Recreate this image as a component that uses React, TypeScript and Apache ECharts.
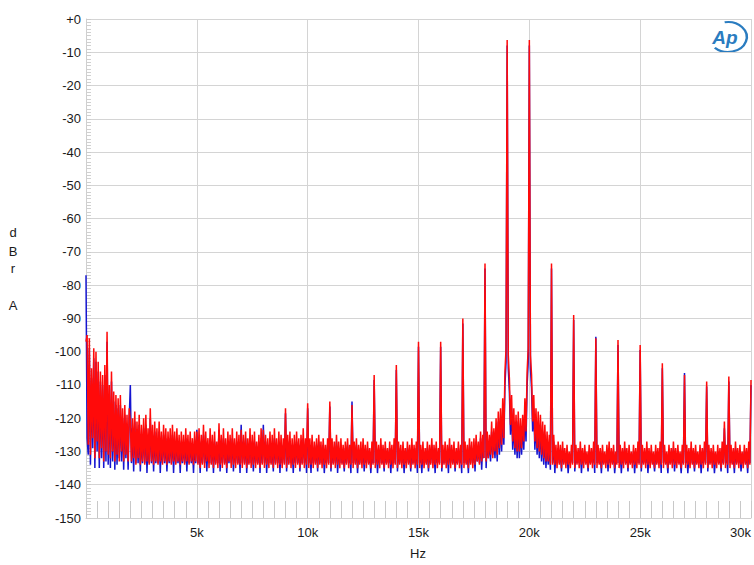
import React, { useEffect, useRef } from "react";
import * as echarts from "echarts";

// ---- data (dBrA), one value per 50 Hz bin starting at 0 Hz ----
const BIN_HZ = 50;

const red0to5k = [
  -97, -95, -128, -96, -131, -105, -126, -99, -132, -100,
  -127, -103, -132, -106, -129, -107, -133, -104, -130, -94,
  -131, -110, -132, -106, -130, -112, -133, -113, -131, -114,
  -133, -113, -130, -117, -133, -116, -131, -119, -133, -117,
  -121, -133, -120, -132, -118, -134, -121, -132, -119, -134,
  -122, -133, -120, -134, -119, -133, -123, -134, -117, -133,
  -122, -134, -121, -133, -123, -134, -121, -133, -124, -134,
  -122, -133, -123, -134, -124, -133, -123, -134, -122, -133,
  -124, -134, -123, -133, -125, -134, -124, -133, -125, -134,
  -123, -133, -125, -134, -124, -133, -126, -134, -124, -133,
];
const red5to10k = [
  -124, -134, -123, -135, -125, -134, -122, -135, -124, -133,
  -126, -135, -123, -134, -125, -135, -124, -134, -127, -135,
  -121.5, -134, -125, -135, -123, -134, -126, -135, -124, -133,
  -125, -135, -123, -134, -126, -135, -124, -134, -125, -134,
  -123.5, -135, -125, -134, -124, -135, -126, -134, -123, -135,
  -125, -134, -124, -135, -127, -134, -125, -135, -123, -134,
  -123.5, -135, -125, -134, -126, -135, -124, -134, -125, -135,
  -123, -134, -126, -135, -124, -134, -125, -135, -126, -134,
  -117, -135, -125, -134, -124, -135, -126, -134, -125, -135,
  -124, -134, -126, -135, -125, -134, -123, -135, -126, -134,
];
const red10to15k = [
  -115.5, -135, -126, -134, -125, -135, -127, -134, -126, -135,
  -125, -134, -127, -135, -126, -134, -128, -135, -126, -134,
  -115, -135, -126, -134, -127, -135, -125, -134, -127, -135,
  -126, -134, -128, -135, -127, -134, -126, -135, -128, -134,
  -116, -135, -127, -134, -126, -135, -128, -134, -127, -135,
  -126, -134, -128, -135, -127, -134, -129, -135, -127, -134,
  -107, -135, -127, -134, -128, -135, -126, -134, -128, -135,
  -127, -134, -129, -135, -127, -134, -128, -135, -126, -134,
  -104, -135, -127, -134, -128, -135, -127, -134, -129, -135,
  -127, -134, -128, -135, -126, -134, -128, -135, -127, -134,
];
const red15to20k = [
  -97, -135, -128, -134, -127, -135, -129, -134, -127, -135,
  -128, -134, -126, -135, -128, -134, -127, -135, -129, -134,
  -97, -135, -128, -134, -127, -135, -128, -134, -126, -135,
  -128, -134, -127, -135, -129, -134, -127, -135, -128, -134,
  -90, -135, -127, -134, -128, -135, -126, -134, -127, -135,
  -126, -134, -125, -133, -127, -134, -124, -133, -125, -132,
  -73.5, -133, -124, -132, -125, -131, -121, -132, -123, -130,
  -120, -131, -118, -129, -117, -128, -114, -126, -106, -99,
  -6.3, -101, -108, -122, -113, -127, -117, -129, -119, -130,
  -118, -130, -120, -129, -119, -127, -114, -124, -106, -99,
];
const red20to25k = [
  -6.3, -101, -107, -121, -113, -127, -117, -129, -118, -130,
  -119, -131, -121, -132, -122, -133, -124, -133, -125, -134,
  -73.5, -134, -125, -134, -128, -135, -127, -134, -128, -135,
  -127, -134, -129, -135, -128, -134, -130, -135, -128, -134,
  -89, -135, -128, -134, -129, -135, -127, -134, -129, -135,
  -128, -134, -130, -135, -128, -134, -129, -135, -127, -134,
  -96, -135, -128, -134, -129, -135, -128, -134, -130, -135,
  -128, -134, -127, -135, -129, -134, -128, -135, -130, -134,
  -96.5, -135, -128, -134, -129, -135, -127, -134, -129, -135,
  -128, -134, -130, -135, -128, -134, -129, -135, -127, -134,
];
const red25to30k = [
  -98, -135, -128, -134, -129, -135, -127, -134, -129, -135,
  -128, -134, -130, -135, -128, -134, -129, -135, -127, -134,
  -103.5, -135, -128, -134, -130, -135, -128, -134, -129, -135,
  -127, -134, -129, -135, -128, -134, -130, -135, -128, -134,
  -107, -135, -128, -134, -129, -135, -127, -134, -129, -135,
  -128, -134, -130, -135, -128, -134, -129, -135, -127, -134,
  -109, -135, -128, -134, -129, -135, -128, -134, -130, -135,
  -128, -134, -129, -135, -127, -134, -121, -135, -128, -134,
  -107.5, -135, -128, -134, -129, -135, -127, -134, -129, -135,
  -128, -134, -130, -135, -128, -134, -129, -135, -127, -134,
  -108.5,
];

const blue0to5k = [
  -77, -126, -131, -99, -134, -108, -129, -102, -135, -103,
  -130, -106, -135, -109, -132, -110, -135, -107, -133, -97,
  -134, -113, -135, -109, -133, -115, -135.5, -116, -134, -117,
  -132, -116, -133, -120, -135.5, -119, -132, -122, -135.5, -120,
  -110, -133.5, -123, -136, -121, -133.5, -124, -133.5, -122, -136,
  -125, -133.5, -123, -133.5, -122, -136.5, -126, -133.5, -120, -133.5,
  -125, -136, -124, -133.5, -126, -133.5, -124, -136.5, -127, -133.5,
  -125, -133.5, -126, -136, -127, -133.5, -126, -133.5, -125, -136.5,
  -127, -133.5, -126, -133.5, -128, -136.5, -127, -133.5, -128, -133.5,
  -126, -136, -127, -133.5, -127, -133.5, -128, -136.5, -127, -133.5,
];
const blue5to10k = [
  -123.5, -133.5, -126, -136.5, -127, -133.5, -125, -133.5, -127, -136,
  -128, -133.5, -126, -133.5, -127, -136.5, -127, -133.5, -129, -133.5,
  -123.5, -136, -127, -133.5, -126, -133.5, -128, -136.5, -127, -133.5,
  -127, -133.5, -126, -136, -128, -133.5, -127, -133.5, -128, -136.5,
  -122, -133.5, -127, -133.5, -126, -136.5, -128, -133.5, -126, -133.5,
  -127, -136, -127, -133.5, -129, -133.5, -127, -136.5, -126, -133.5,
  -122, -133.5, -127, -136.5, -128, -133.5, -127, -133.5, -128, -136,
  -126, -133.5, -128, -133.5, -127, -136.5, -128, -133.5, -128, -133.5,
  -118.5, -136, -127, -133.5, -127, -133.5, -128, -136.5, -128, -133.5,
  -127, -133.5, -128, -136, -127, -133.5, -126, -133.5, -128, -136.5,
];
const blue10to15k = [
  -117, -133.5, -128, -136.5, -127, -133.5, -129, -133.5, -128, -136,
  -127, -133.5, -129, -133.5, -128, -136.5, -130, -133.5, -128, -133.5,
  -116.5, -136, -128, -133.5, -129, -133.5, -127, -136.5, -129, -133.5,
  -128, -133.5, -130, -136, -129, -133.5, -128, -133.5, -130, -136.5,
  -115, -133.5, -129, -133.5, -128, -136.5, -130, -133.5, -129, -133.5,
  -128, -136, -130, -133.5, -129, -133.5, -131, -136.5, -129, -133.5,
  -108.5, -133.5, -129, -136.5, -130, -133.5, -128, -133.5, -130, -136,
  -129, -133.5, -131, -133.5, -129, -136.5, -130, -133.5, -128, -133.5,
  -105.5, -136, -129, -133.5, -130, -133.5, -129, -136.5, -131, -133.5,
  -129, -133.5, -130, -136, -128, -133.5, -130, -133.5, -129, -136.5,
];
const blue15to20k = [
  -98.5, -133.5, -130, -136.5, -129, -133.5, -131, -133.5, -129, -136,
  -130, -133.5, -128, -133.5, -130, -136.5, -129, -133.5, -131, -133.5,
  -98.5, -136, -130, -133.5, -129, -133.5, -130, -136.5, -128, -133.5,
  -130, -133.5, -129, -136, -131, -133.5, -129, -133.5, -130, -136.5,
  -91.5, -133.5, -129, -133.5, -130, -136.5, -128, -133.5, -129, -133.5,
  -128, -136, -127, -133, -129, -133.5, -126, -135.5, -127, -132,
  -75, -135, -126, -132, -127, -133, -124, -131, -125, -132,
  -123, -133, -121, -131, -120, -130, -118, -128, -110, -103,
  -8, -105, -112, -125, -117, -129.5, -121, -131, -122, -132,
  -121, -132, -123, -131, -122, -129.5, -118, -127, -110, -103,
];
const blue20to25k = [
  -8, -105, -111, -124, -117, -129.5, -121, -131, -122, -132,
  -122, -133, -124, -134, -125, -135, -127, -134, -128, -135.5,
  -75, -133.5, -127, -136.5, -130, -133.5, -129, -133.5, -130, -136,
  -129, -133.5, -131, -133.5, -130, -136.5, -132, -133.5, -130, -133.5,
  -90.5, -136, -130, -133.5, -131, -133.5, -129, -136.5, -131, -133.5,
  -130, -133.5, -132, -136, -130, -133.5, -131, -133.5, -129, -136.5,
  -95.5, -133.5, -130, -133.5, -131, -136.5, -130, -133.5, -132, -133.5,
  -130, -136, -129, -133.5, -131, -133.5, -130, -136.5, -132, -133.5,
  -98, -133.5, -130, -136.5, -131, -133.5, -129, -133.5, -131, -136,
  -130, -133.5, -132, -133.5, -130, -136.5, -131, -133.5, -129, -133.5,
];
const blue25to30k = [
  -99.5, -136, -130, -133.5, -131, -133.5, -129, -136.5, -131, -133.5,
  -130, -133.5, -132, -136, -130, -133.5, -131, -133.5, -129, -136.5,
  -105, -133.5, -130, -133.5, -132, -136.5, -130, -133.5, -131, -133.5,
  -129, -136, -131, -133.5, -130, -133.5, -132, -136.5, -130, -133.5,
  -106.4, -133.5, -130, -136.5, -131, -133.5, -129, -133.5, -131, -136,
  -130, -133.5, -132, -133.5, -130, -136.5, -131, -133.5, -129, -133.5,
  -110.5, -136, -130, -133.5, -131, -133.5, -130, -136.5, -132, -133.5,
  -130, -133.5, -131, -136, -129, -133.5, -123, -133.5, -130, -136.5,
  -109, -133.5, -130, -133.5, -131, -136.5, -129, -133.5, -131, -133.5,
  -130, -136, -132, -133.5, -130, -133.5, -131, -136.5, -129, -133.5,
  -110,
];

const xTicksHz = [0, 5000, 10000, 15000, 20000, 25000, 30000];
const yTicksDb = [0, -10, -20, -30, -40, -50, -60, -70, -80, -90, -100, -110, -120, -130, -140, -150];
const yNameLetters = ["d", "B", "r", "A"];

const FONT = '"Liberation Sans", Arial, Helvetica, sans-serif';

function toPoints(vals: number[]) {
  return vals.map((v, i) => [i * BIN_HZ, v]);
}

export default function App() {
  const ref = useRef<HTMLDivElement>(null);
  useEffect(() => {
    if (!ref.current) return;
    const chart = echarts.init(ref.current, undefined, { renderer: "svg" });
    const red = [...red0to5k, ...red5to10k, ...red10to15k, ...red15to20k, ...red20to25k, ...red25to30k];
    const blue = [...blue0to5k, ...blue5to10k, ...blue10to15k, ...blue15to20k, ...blue20to25k, ...blue25to30k];
    const letterY = [232, 251, 268, 305];
    chart.setOption({
      animation: false,
      backgroundColor: "#ffffff",
      grid: { left: 86, right: 2, top: 19, bottom: 47, containLabel: false },
      xAxis: {
        type: "value",
        min: xTicksHz[0],
        max: xTicksHz[xTicksHz.length - 1],
        interval: 5000,
        axisLine: { show: true, onZero: false, lineStyle: { color: "#cfcfcf", width: 1 } },
        axisTick: { show: true, inside: true, length: 17, lineStyle: { color: "#c8c8c8" } },
        minorTick: { show: true, splitNumber: 10, length: 17, lineStyle: { color: "#c8c8c8" } },
        splitLine: { show: true, lineStyle: { color: "#d4d4d4", width: 1 } },
        axisLabel: {
          color: "#1a1a1a",
          fontFamily: FONT,
          fontSize: 13,
          margin: 8,
          alignMaxLabel: "right",
          formatter: (v: number) => (v === 0 ? "" : v / 1000 + "k"),
        },
      },
      yAxis: {
        type: "value",
        min: yTicksDb[yTicksDb.length - 1],
        max: yTicksDb[0],
        interval: 10,
        axisLine: { show: true, onZero: false, lineStyle: { color: "#cfcfcf", width: 1 } },
        axisTick: { show: true, inside: true, length: 5, lineStyle: { color: "#cccccc" } },
        minorTick: { show: true, splitNumber: 10, length: 5, lineStyle: { color: "#d0d0d0" } },
        splitLine: { show: true, lineStyle: { color: "#d4d4d4", width: 1 } },
        axisLabel: {
          color: "#1a1a1a",
          fontFamily: FONT,
          fontSize: 13,
          margin: 5,
          formatter: (v: number) => (v === 0 ? "+0" : String(v)),
        },
      },
      graphic: [
        ...yNameLetters.map((t, i) => ({
          type: "text",
          x: 13,
          y: letterY[i],
          style: { text: t, fill: "#1a1a1a", font: `13px ${FONT}`, textAlign: "center", textVerticalAlign: "middle" },
        })),
        {
          type: "text",
          x: 418,
          y: 553,
          style: { text: "Hz", fill: "#1a1a1a", font: `13px ${FONT}`, textAlign: "center", textVerticalAlign: "middle" },
        },
        {
          type: "group",
          x: 728,
          y: 37,
          children: [
            {
              type: "arc",
              scaleX: 1.25,
              shape: { cx: 0, cy: 0, r: 15, startAngle: -1.75, endAngle: 2.35, clockwise: true },
              style: { stroke: "#2a7cc0", lineWidth: 2, fill: "none" },
            },
            {
              type: "text",
              x: -3,
              y: 0,
              style: {
                text: "Ap",
                fill: "#2a7cc0",
                font: `italic bold 19px ${FONT}`,
                textAlign: "center",
                textVerticalAlign: "middle",
              },
            },
          ],
        },
      ],
      series: [
        {
          type: "line",
          data: toPoints(blue),
          symbol: "none",
          lineStyle: { color: "#1515d0", width: 1.5 },
          z: 2,
        },
        {
          type: "line",
          data: toPoints(red),
          symbol: "none",
          lineStyle: { color: "#ff0a0a", width: 1.5 },
          z: 3,
        },
      ],
    });
    return () => chart.dispose();
  }, []);
  return <div ref={ref} style={{ position: "fixed", left: 0, top: 0, width: 754, height: 565 }} />;
}
